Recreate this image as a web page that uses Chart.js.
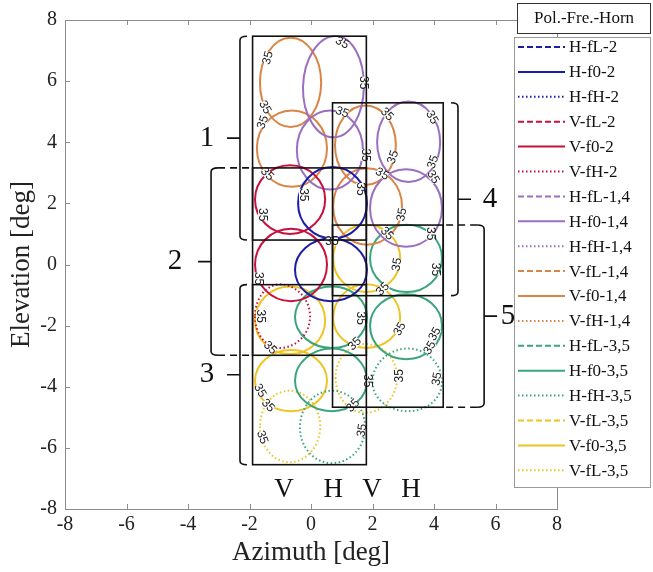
<!DOCTYPE html>
<html>
<head>
<meta charset="utf-8">
<title>Beam footprint</title>
<script src="https://cdn.jsdelivr.net/npm/chart.js@4.4.1/dist/chart.umd.min.js"></script>
<style>
  html, body { margin: 0; padding: 0; background: #fff; }
  #wrap { width: 653px; height: 572px; }
</style>
</head>
<body>
<div id="wrap"><canvas id="beamChart" width="653" height="572"></canvas></div>
<script>
// Legend entries (polarisation - frequency - horn)
const seriesNames = [
    "H-fL-2", "H-f0-2", "H-fH-2", "V-fL-2", "V-f0-2", "V-fH-2",
    "H-fL-1,4", "H-f0-1,4", "H-fH-1,4", "V-fL-1,4", "V-f0-1,4", "V-fH-1,4",
    "H-fL-3,5", "H-f0-3,5", "H-fH-3,5", "V-fL-3,5", "V-f0-3,5", "V-fL-3,5"
];
const seriesColors = [
    "#1c1ca8", "#1c1ca8", "#1c1ca8", "#c8103c", "#c8103c", "#c8103c",
    "#9b6fbf", "#9b6fbf", "#9b6fbf", "#d98547", "#d98547", "#d98547",
    "#3aa57c", "#3aa57c", "#3aa57c", "#eec322", "#eec322", "#eec322"
];
const dashStyles = { fL: [6, 3], f0: [], fH: [1.5, 2.5] };
const seriesFreq = ["fL", "f0", "fH", "fL", "f0", "fH", "fL", "f0", "fH",
                    "fL", "f0", "fH", "fL", "f0", "fH", "fL", "f0", "fH"];

// 35 contour of each beam: [left, top, right, bottom] points as [azimuth, elevation]
const hfL2 = [];
const hf02 = [ [[-0.42, 2.0], [0.7, 3.19], [1.82, 2.0], [0.7, 0.85]],
               [[-0.52, -0.18], [0.65, 0.85], [1.82, -0.18], [0.65, -1.2]] ];
const hfH2 = [];
const vfL2 = [];
const vf02 = [ [[-1.82, 2.13], [-0.68, 3.25], [0.46, 2.13], [-0.68, 1.0]],
               [[-1.82, 0.0], [-0.65, 1.17], [0.52, 0.0], [-0.65, -1.2]] ];
const vfH2 = [ [[-1.82, -1.7], [-1.0, -0.65], [-0.03, -1.7], [-1.0, -2.73]] ];
const hfL14 = [];
const hf014 = [ [[-0.26, 5.8], [0.8, 7.48], [1.72, 5.8], [0.73, 4.16]],
                [[2.15, 4.0], [3.17, 5.33], [4.2, 4.0], [3.17, 2.7]],
                [[-0.46, 3.75], [0.62, 5.04], [1.69, 3.75], [0.62, 2.45]],
                [[1.92, 1.85], [3.09, 3.12], [4.26, 1.85], [3.09, 0.58]] ];
const hfH14 = [];
const vfL14 = [];
const vf014 = [ [[-1.66, 5.95], [-0.66, 7.42], [0.33, 5.95], [-0.66, 4.5]],
                [[0.78, 3.9], [1.77, 5.2], [2.76, 3.9], [1.77, 2.6]],
                [[-1.76, 3.8], [-0.62, 5.04], [0.52, 3.8], [-0.62, 2.54]],
                [[0.72, 1.9], [1.82, 3.15], [2.96, 1.9], [1.82, 0.65]] ];
const vfH14 = [];
const hfL35 = [];
const hf035 = [ [[-0.52, -1.72], [0.68, -0.72], [1.82, -1.72], [0.68, -2.73]],
                [[1.92, 0.2], [3.12, 1.3], [4.26, 0.2], [3.12, -0.9]],
                [[-0.52, -3.8], [0.68, -2.75], [1.82, -3.8], [0.68, -4.8]],
                [[1.92, -2.0], [3.1, -0.97], [4.26, -2.0], [3.1, -3.1]] ];
const hfH35 = [ [[-0.36, -5.33], [0.68, -4.13], [1.76, -5.33], [0.68, -6.5]],
                [[2.0, -3.84], [3.15, -2.75], [4.26, -3.84], [3.15, -4.8]] ];
const vfL35 = [];
const vf035 = [ [[-1.82, -1.83], [-0.68, -0.72], [0.46, -1.83], [-0.68, -2.93]],
                [[0.72, 0.2], [1.8, 1.3], [2.9, 0.2], [1.8, -0.9]],
                [[-1.82, -3.8], [-0.65, -2.8], [0.52, -3.8], [-0.65, -4.8]],
                [[0.72, -1.75], [1.8, -0.65], [2.9, -1.75], [1.8, -2.73]] ];
const vfH35 = [ [[-1.66, -5.3], [-0.7, -4.13], [0.3, -5.3], [-0.7, -6.47]],
                [[0.8, -3.7], [1.76, -2.6], [2.8, -3.7], [1.76, -4.85]] ];

const seriesContours = [hfL2, hf02, hfH2, vfL2, vf02, vfH2,
                        hfL14, hf014, hfH14, vfL14, vf014, vfH14,
                        hfL35, hf035, hfH35, vfL35, vf035, vfH35];

// Horn groups: box extents and the brace next to each box
const groupNames = ["1", "2", "3", "4", "5"];
const boxAz = [[-1.9, 1.8], [-1.9, 1.8], [-1.9, 1.8], [0.7, 4.3], [0.7, 4.3]];
const boxEl = [[0.8, 7.47], [-2.97, 3.16], [-6.55, -0.66], [-1.02, 5.29], [-4.67, 1.29]];
const braceAz = [-2.31, -3.25, -2.31, 4.78, 5.63];
const braceSide = [-1, -1, -1, 1, 1];
const braceDashed = [false, true, false, false, true];
const braceLabelGap = [33, 36, 33, 32, 24];

// Polarisation of each beam column
const columnPol = ["V", "H", "V", "H"];
const columnAz = [-0.88, 0.72, 1.98, 3.25];
const columnEl = -7.38;

// Contour level labels
const labelAz = [-1.40, 1.01, 1.69, -1.50, -1.56, 1.01, 2.47, 3.93, 1.76, 2.67,
                 3.97, 2.31, 3.97, 2.96, -1.43, -0.26, 1.59, -1.59, 0.68, 2.47,
                 3.87, 2.80, 4.03, -1.72, 2.34, -1.66, 1.59, 2.89, 4.03, -1.33,
                 1.43, 3.87, -1.66, 2.89, 4.10, 1.82, -1.40, 1.37, -1.59, 1.66];
const labelEl = [6.76, 7.25, 5.95, 5.14, 4.65, 4.98, 4.91, 4.81, 3.58, 3.51,
                 3.35, 2.96, 2.86, 1.63, 2.96, 2.28, 2.47, 1.63, 0.75, 1.01,
                 1.01, 0.0, -0.16, -0.46, -0.81, -1.69, -1.76, -2.11, -2.28, -2.73,
                 -2.60, -2.73, -4.13, -3.64, -3.74, -3.80, -4.62, -4.62, -5.66, -5.43];
const labelRot = [-75, 30, 90, 60, -70, 20, 45, 60, 90, -70,
                  -70, 30, 60, -80, 45, 90, 90, 90, 0, 45,
                  90, -80, 90, 90, -45, 90, 90, -60, -60, 45,
                  -45, -60, 60, -90, -80, 90, 45, -45, 70, -80];

const serif = '"Liberation Serif", "Times New Roman", serif';

// Walk the four points round one and a half times so every drawn piece
// has neighbours on both sides for the spline; the two end pieces are hidden
function contourData(c) {
    const [l, t, r, b] = c.map(p => ({ x: p[0], y: p[1] }));
    return [t, l, b, r, t, l, b];
}

function buildDatasets() {
    const sets = [];
    seriesContours.forEach((contours, i) => {
        contours.forEach(c => {
            sets.push({
                label: seriesNames[i],
                data: contourData(c),
                showLine: true,
                borderColor: seriesColors[i],
                borderWidth: 2,
                borderDash: dashStyles[seriesFreq[i]],
                pointRadius: 0,
                tension: 0.5523,
                fill: false,
                segment: {
                    borderColor: ctx => (ctx.p0DataIndex === 0 || ctx.p0DataIndex === 5) ? "rgba(0,0,0,0)" : undefined
                }
            });
        });
    });
    return sets;
}

function drawContourLabels(chart) {
    const ctx = chart.ctx, xs = chart.scales.x, ys = chart.scales.y;
    ctx.save();
    ctx.font = '12px "Liberation Sans", Arial, sans-serif';
    ctx.textAlign = "center";
    ctx.textBaseline = "middle";
    labelAz.forEach((az, i) => {
        ctx.save();
        ctx.translate(xs.getPixelForValue(az), ys.getPixelForValue(labelEl[i]));
        ctx.rotate(labelRot[i] * Math.PI / 180);
        ctx.fillStyle = "#fff";
        ctx.fillRect(-6, -4, 12, 8);
        ctx.fillStyle = "#222";
        ctx.fillText("35", 0, 0);
        ctx.restore();
    });
    ctx.restore();
}

function drawBoxes(chart) {
    const ctx = chart.ctx, xs = chart.scales.x, ys = chart.scales.y;
    ctx.save();
    ctx.strokeStyle = "#111";
    ctx.lineWidth = 1.6;
    boxAz.forEach((az, i) => {
        const x1 = xs.getPixelForValue(az[0]), x2 = xs.getPixelForValue(az[1]);
        const y1 = ys.getPixelForValue(boxEl[i][1]), y2 = ys.getPixelForValue(boxEl[i][0]);
        ctx.strokeRect(x1, y1, x2 - x1, y2 - y1);
    });
    ctx.restore();
}

function drawBraces(chart) {
    const ctx = chart.ctx, xs = chart.scales.x, ys = chart.scales.y;
    ctx.save();
    ctx.strokeStyle = "#111";
    ctx.lineWidth = 1.6;
    ctx.fillStyle = "#111";
    ctx.font = "29px " + serif;
    ctx.textAlign = "center";
    ctx.textBaseline = "middle";
    braceAz.forEach((az, i) => {
        const side = braceSide[i];             // -1 box on the right, 1 box on the left
        const x = xs.getPixelForValue(az);
        const yTop = ys.getPixelForValue(boxEl[i][1]);
        const yBot = ys.getPixelForValue(boxEl[i][0]);
        const yMid = (yTop + yBot) / 2;
        const hook = -side * 7, r = 4;
        ctx.beginPath();
        ctx.moveTo(x + hook, yTop);
        ctx.quadraticCurveTo(x, yTop, x, yTop + r);
        ctx.lineTo(x, yBot - r);
        ctx.quadraticCurveTo(x, yBot, x + hook, yBot);
        ctx.moveTo(x, yMid);
        ctx.lineTo(x + side * 13, yMid);
        ctx.stroke();
        if (braceDashed[i]) {
            const edge = xs.getPixelForValue(side < 0 ? boxAz[i][0] : boxAz[i][1]);
            ctx.save();
            ctx.setLineDash([7, 5]);
            ctx.beginPath();
            ctx.moveTo(x + hook, yTop);
            ctx.lineTo(edge, yTop);
            ctx.moveTo(x + hook, yBot);
            ctx.lineTo(edge, yBot);
            ctx.stroke();
            ctx.restore();
        }
        ctx.fillText(groupNames[i], x + side * braceLabelGap[i], yMid);
    });
    ctx.font = "27px " + serif;
    columnPol.forEach((p, i) => {
        ctx.fillText(p, xs.getPixelForValue(columnAz[i]), ys.getPixelForValue(columnEl));
    });
    ctx.restore();
}

function drawFrame(chart) {
    const ctx = chart.ctx, a = chart.chartArea, xs = chart.scales.x, ys = chart.scales.y;
    ctx.save();
    ctx.strokeStyle = "#8c8c8c";
    ctx.lineWidth = 1;
    ctx.strokeRect(a.left + 0.5, a.top + 0.5, a.right - a.left, a.bottom - a.top);
    ctx.beginPath();
    xs.ticks.forEach(t => {
        const x = Math.round(xs.getPixelForValue(t.value)) + 0.5;
        ctx.moveTo(x, a.bottom); ctx.lineTo(x, a.bottom - 5);
        ctx.moveTo(x, a.top); ctx.lineTo(x, a.top + 5);
    });
    ys.ticks.forEach(t => {
        const y = Math.round(ys.getPixelForValue(t.value)) + 0.5;
        ctx.moveTo(a.left, y); ctx.lineTo(a.left + 5, y);
        ctx.moveTo(a.right, y); ctx.lineTo(a.right - 5, y);
    });
    ctx.stroke();
    ctx.restore();
}

function drawLegend(chart) {
    const ctx = chart.ctx;
    ctx.save();
    // title box
    ctx.fillStyle = "#fff";
    ctx.fillRect(517, 3, 134, 31);
    ctx.strokeStyle = "#333";
    ctx.lineWidth = 1;
    ctx.strokeRect(517.5, 3.5, 133, 30);
    ctx.fillStyle = "#111";
    ctx.font = "17px " + serif;
    ctx.textAlign = "center";
    ctx.textBaseline = "middle";
    ctx.fillText("Pol.-Fre.-Horn", 584, 19);
    // entries box
    ctx.fillStyle = "#fff";
    ctx.fillRect(514, 37, 137, 451);
    ctx.strokeStyle = "#9a9a9a";
    ctx.strokeRect(514.5, 37.5, 136, 450);
    ctx.textAlign = "left";
    seriesNames.forEach((name, i) => {
        const y = 47 + i * 24.9;
        ctx.strokeStyle = seriesColors[i];
        ctx.lineWidth = 2;
        ctx.setLineDash(dashStyles[seriesFreq[i]]);
        ctx.beginPath();
        ctx.moveTo(518, y);
        ctx.lineTo(565, y);
        ctx.stroke();
        ctx.setLineDash([]);
        ctx.fillStyle = "#111";
        ctx.fillText(name, 569, y + 1);
    });
    ctx.restore();
}

const beamPlugin = {
    id: "beamPlugin",
    afterDatasetsDraw(chart) {
        drawContourLabels(chart);
        drawBoxes(chart);
        drawBraces(chart);
    },
    afterDraw(chart) {
        drawFrame(chart);
        drawLegend(chart);
    }
};

const beamChart = new Chart(document.getElementById("beamChart"), {
    type: "scatter",
    data: { datasets: buildDatasets() },
    options: {
        responsive: false,
        animation: false,
        events: [],
        layout: { padding: { left: 0, top: 17, right: 96, bottom: 0 } },
        plugins: { legend: { display: false }, tooltip: { enabled: false } },
        scales: {
            x: {
                type: "linear", min: -8, max: 8,
                afterFit(scale) { scale.height = 63; },
                grid: { display: false, drawTicks: false },
                border: { display: false },
                ticks: { stepSize: 2, padding: 4, color: "#222", font: { family: serif, size: 20 } },
                title: { display: true, text: "Azimuth [deg]", color: "#222",
                         font: { family: serif, size: 27 }, padding: { top: 0, bottom: 3 } }
            },
            y: {
                type: "linear", min: -8, max: 8,
                afterFit(scale) { scale.width = 65; },
                grid: { display: false, drawTicks: false },
                border: { display: false },
                ticks: { stepSize: 2, padding: 8, color: "#222", font: { family: serif, size: 20 } },
                title: { display: true, text: "Elevation [deg]", color: "#222",
                         font: { family: serif, size: 27 }, padding: { top: 6, bottom: 0 } }
            }
        }
    },
    plugins: [beamPlugin]
});
</script>
</body>
</html>
